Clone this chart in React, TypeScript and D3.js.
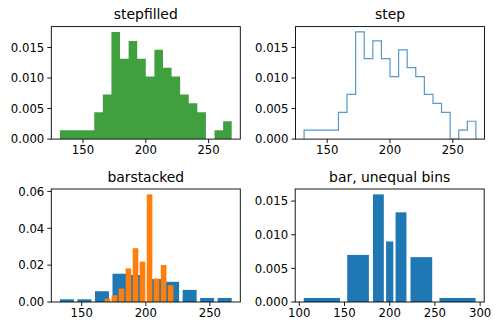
import React from "react";
import * as d3 from "d3";

// ---- data ----
const xMin = 131.6;
const xMax = 268.4;
const stepDensity = [0.00146, 0.00146, 0.00146, 0.00146, 0.00439, 0.00731, 0.01754, 0.01316, 0.01608, 0.01316,
  0.01023, 0.01462, 0.0117, 0.01023, 0.00731, 0.00585, 0.00439, 0, 0.00146, 0.00292];

const xDensity10 = [0.00146, 0.00146, 0.00585, 0.01535, 0.01462, 0.01243, 0.01096, 0.00658, 0.00219, 0.00219];
const wMin = 167.3;
const wMax = 222.1;
const wDensity10 = [0.00182, 0.00365, 0.0073, 0.01825, 0.0292, 0.0219, 0.0584, 0.01277, 0.02007, 0.00912];

const unequalBins = [100, 150, 180, 195, 205, 220, 250, 300];
const unequalDensity = [0.0006, 0.007, 0.016, 0.009, 0.01333, 0.00667, 0.0006];

const titles = ["stepfilled", "step", "barstacked", "bar, unequal bins"];
const xTicksA = [150, 200, 250];
const xTicksB = [100, 150, 200, 250, 300];
const yTicksSmall = [0, 0.005, 0.01, 0.015];
const yTicksBig = [0, 0.02, 0.04, 0.06];

const C0 = "#1f77b4";
const C1 = "#ff7f0e";
const FONT = "DejaVu Sans, sans-serif";

const edges = (lo: number, hi: number, n: number) => d3.range(n + 1).map((i) => lo + ((hi - lo) * i) / n);

type Bar = { x0: number; x1: number; y: number };
const barsFrom = (e: number[], dens: number[], rwidth: number): Bar[] =>
  dens.map((y, i) => {
    const w = e[i + 1] - e[i];
    const c = (e[i] + e[i + 1]) / 2;
    return { x0: c - (w * rwidth) / 2, x1: c + (w * rwidth) / 2, y };
  });

function pad(lo: number, hi: number) {
  const m = (hi - lo) * 0.05;
  return [lo - m, hi + m];
}

type PanelProps = {
  left: number; top: number; width: number; height: number;
  title: string; xDomain: number[]; yMax: number;
  xTicks: number[]; yTicks: number[]; yFmt: string;
  children: (x: d3.ScaleLinear<number, number>, y: d3.ScaleLinear<number, number>) => React.ReactNode;
};

function Panel(p: PanelProps) {
  const x = d3.scaleLinear().domain(p.xDomain).range([p.left, p.left + p.width]);
  const y = d3.scaleLinear().domain([0, p.yMax]).range([p.top + p.height, p.top]);
  const fmt = d3.format(p.yFmt);
  const bottom = p.top + p.height;
  const clipId = "clip" + p.title.replace(/[^a-z]/g, "");
  return (
    <g>
      <defs>
        <clipPath id={clipId}>
          <rect x={p.left} y={p.top} width={p.width} height={p.height} />
        </clipPath>
      </defs>
      <g clipPath={`url(#${clipId})`}>{p.children(x, y)}</g>
      <rect x={p.left} y={p.top} width={p.width} height={p.height} fill="none" stroke="#000" strokeWidth={0.9} />
      {p.xTicks.map((t) => (
        <g key={"x" + t}>
          <line x1={x(t)} x2={x(t)} y1={bottom} y2={bottom + 4} stroke="#000" strokeWidth={0.9} />
          <text x={x(t)} y={bottom + 6} dy="0.76em" textAnchor="middle" fontSize={11.7} fontFamily={FONT} fill="#000">
            {t}
          </text>
        </g>
      ))}
      {p.yTicks.map((t) => (
        <g key={"y" + t}>
          <line x1={p.left - 4} x2={p.left} y1={y(t)} y2={y(t)} stroke="#000" strokeWidth={0.9} />
          <text x={p.left - 7} y={y(t)} dy="0.36em" textAnchor="end" fontSize={11.7} fontFamily={FONT} fill="#000">
            {fmt(t)}
          </text>
        </g>
      ))}
      <text x={p.left + p.width / 2} y={p.top - 7.5} textAnchor="middle" fontSize={13.9} fontFamily={FONT} fill="#000">
        {p.title}
      </text>
    </g>
  );
}

export default function App() {
  const e20 = edges(xMin, xMax, stepDensity.length);
  const e10x = edges(xMin, xMax, xDensity10.length);
  const e10w = edges(wMin, wMax, wDensity10.length);

  const stepPts: [number, number][] = [[e20[0], 0]];
  stepDensity.forEach((d, i) => {
    stepPts.push([e20[i], d]);
    stepPts.push([e20[i + 1], d]);
  });
  stepPts.push([e20[e20.length - 1], 0]);

  const xBars = barsFrom(e10x, xDensity10, 0.8);
  const wBars = barsFrom(e10w, wDensity10, 0.8);
  const uBars = barsFrom(unequalBins, unequalDensity, 0.8);

  const topDomain = pad(xMin, xMax);
  const blDomain = pad(xBars[0].x0, xBars[xBars.length - 1].x1);
  const brDomain = pad(uBars[0].x0, uBars[uBars.length - 1].x1);
  const topYMax = (d3.max(stepDensity) as number) * 1.05;
  const blYMax = Math.max(d3.max(xDensity10) as number, d3.max(wDensity10) as number) * 1.05;
  const brYMax = (d3.max(unequalDensity) as number) * 1.05;

  const W = 189;
  const H = 112.5;

  const barRects = (bars: Bar[], x: any, y: any, color: string, key: string) =>
    bars.map((b, i) => (
      <rect key={key + i} x={x(b.x0)} width={x(b.x1) - x(b.x0)} y={y(b.y)} height={y(0) - y(b.y)} fill={color} />
    ));

  return (
    <svg width={500} height={330} style={{ position: "absolute", left: 0, top: 0, background: "#fff" }}>
      <rect width={500} height={330} fill="#fff" />
      <Panel left={51.3} top={26.6} width={W} height={H} title={titles[0]} xDomain={topDomain} yMax={topYMax}
        xTicks={xTicksA} yTicks={yTicksSmall} yFmt=".3f">
        {(x, y) => (
          <path d={d3.line().x((d) => x(d[0])).y((d) => y(d[1]))(stepPts) + "Z"} fill="green" fillOpacity={0.75} />
        )}
      </Panel>
      <Panel left={295.5} top={26.6} width={W} height={H} title={titles[1]} xDomain={topDomain} yMax={topYMax}
        xTicks={xTicksA} yTicks={yTicksSmall} yFmt=".3f">
        {(x, y) => (
          <path d={d3.line().x((d) => x(d[0])).y((d) => y(d[1]))(stepPts) as string} fill="none" stroke={C0}
            strokeOpacity={0.75} strokeWidth={1.2} />
        )}
      </Panel>
      <Panel left={51.3} top={189} width={W} height={H + 0.5} title={titles[2]} xDomain={blDomain} yMax={blYMax}
        xTicks={xTicksA} yTicks={yTicksBig} yFmt=".2f">
        {(x, y) => (
          <g>
            {barRects(xBars, x, y, C0, "x")}
            {barRects(wBars, x, y, C1, "w")}
          </g>
        )}
      </Panel>
      <Panel left={295.2} top={189} width={W} height={H + 0.5} title={titles[3]} xDomain={brDomain} yMax={brYMax}
        xTicks={xTicksB} yTicks={yTicksSmall} yFmt=".3f">
        {(x, y) => <g>{barRects(uBars, x, y, C0, "u")}</g>}
      </Panel>
    </svg>
  );
}
